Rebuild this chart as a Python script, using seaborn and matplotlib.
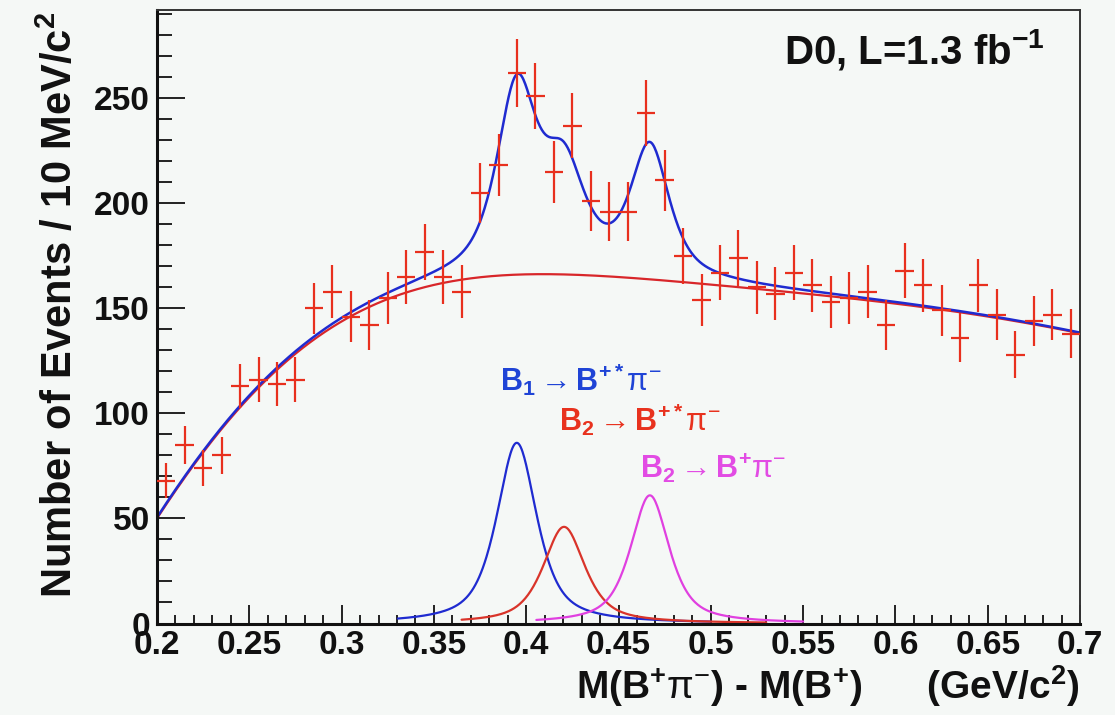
import numpy as np
import pandas as pd
import matplotlib
matplotlib.use("Agg")
import matplotlib.pyplot as plt
import seaborn as sns
from matplotlib import font_manager
from matplotlib.ticker import MultipleLocator, FuncFormatter

# ---------------- data ----------------
bin_lo = 0.20
bin_width = 0.01
counts = [68, 85, 74, 80, 113, 116, 114, 116, 150, 158,
          146, 142, 155, 165, 177, 165, 158, 205, 218, 262,
          251, 215, 237, 201, 196, 196, 243, 211, 175, 154,
          167, 174, 160, 157, 167, 161, 153, 155, 158, 142,
          168, 161, 149, 136, 161, 147, 128, 144, 147, 138]

# background fit curve, read at 0.02 steps
bg_x = [0.20, 0.22, 0.24, 0.26, 0.28, 0.30, 0.32, 0.34, 0.36, 0.38,
        0.40, 0.42, 0.44, 0.46, 0.48, 0.50, 0.52, 0.54, 0.56, 0.58,
        0.60, 0.62, 0.64, 0.66, 0.68, 0.70]
bg_y = [50, 75.5, 98, 117, 131.5, 143.5, 152.5, 159, 163.3, 165.3,
        166.2, 166.2, 165.4, 164.1, 162.6, 160.9, 159.9, 158.5, 156.5, 154.3,
        152.0, 149.6, 147.4, 144.9, 141.8, 138.0]

# signal peaks (B1 -> B*pi, B2 -> B*pi, B2 -> B pi)
peak_names = ["B1_Bstar", "B2_Bstar", "B2_B"]
peak_mean = [0.3949, 0.4205, 0.467]
peak_height = [86, 46, 61]
peak_fwhm = [0.026, 0.027, 0.025]
peak_lorentz_frac = 0.7
peak_range = [(0.33, 0.50), (0.365, 0.53), (0.405, 0.55)]
zero_line_x = [0.20, 0.30]
zero_line_y = [0, 0]

# ---------------- style ----------------
BG = "#f5f8f6"
RED_DATA = "#e8301e"
RED_BG = "#d8262a"
BLUE = "#1f2bd0"
RED_PK = "#d9342a"
MAGENTA = "#e040e0"
BLUE_TXT = "#1f44d6"
RED_TXT = "#e8321e"
MAG_TXT = "#e24ce4"

sns.set_theme(style="white")
plt.rcParams["font.family"] = ["Liberation Sans", "DejaVu Sans"]
plt.rcParams["mathtext.fontset"] = "custom"
plt.rcParams["mathtext.rm"] = "Liberation Sans"
plt.rcParams["mathtext.it"] = "Liberation Sans:italic"
plt.rcParams["mathtext.bf"] = "Liberation Sans:bold"
plt.rcParams["mathtext.sf"] = "Liberation Sans"

names = {f.name for f in font_manager.fontManager.ttflist}
narrow = "Liberation Sans Narrow" in names
if narrow:
    tick_x_family = ["Liberation Sans Narrow", "Liberation Sans"]
    tick_x_size = 28
else:
    tick_x_family = ["Liberation Sans", "DejaVu Sans"]
    tick_x_size = 24

fig = plt.figure(figsize=(11.15, 7.15), dpi=100, facecolor=BG)
W, H = 1115, 715
x0px, x1px, y0px, y1px = 157, 1080, 623.5, 10
ax = fig.add_axes([x0px / W, (H - y0px) / H, (x1px - x0px) / W, (y0px - y1px) / H])
ax.set_facecolor(BG)

# ---------------- curves ----------------
def pseudo_voigt(x, mu, h, fwhm, eta):
    u = 2 * (x - mu) / fwhm
    return h * (eta / (1 + u ** 2) + (1 - eta) * np.exp(-np.log(2) * u ** 2))

xf = np.linspace(0.2, 0.7, 1001)
t_bg = (np.array(bg_x) - 0.45) / 0.25
coef = np.polyfit(t_bg, np.array(bg_y), 7)
bg_f = np.polyval(coef, (xf - 0.45) / 0.25)

peaks = [pseudo_voigt(xf, m, h, w, peak_lorentz_frac)
         for m, h, w in zip(peak_mean, peak_height, peak_fwhm)]
total = bg_f + np.sum(peaks, axis=0)

sns.lineplot(x=zero_line_x, y=zero_line_y, ax=ax, color=MAGENTA, lw=2.0)

peak_colors = [BLUE, RED_PK, MAGENTA]
for pk, (a, b), c in zip(peaks, peak_range, peak_colors):
    m = (xf >= a) & (xf <= b)
    sns.lineplot(x=xf[m], y=pk[m], ax=ax, color=c, lw=1.6, sort=False)

sns.lineplot(x=xf, y=bg_f, ax=ax, color=RED_BG, lw=1.6, sort=False)
sns.lineplot(x=xf, y=total, ax=ax, color=BLUE, lw=1.8, sort=False)

# ---------------- data points ----------------
centers = bin_lo + bin_width * (np.arange(len(counts)) + 0.5)
cnt = np.array(counts, dtype=float)
ax.errorbar(centers, cnt, yerr=np.sqrt(cnt), xerr=bin_width / 2, fmt="none",
            ecolor=RED_DATA, elinewidth=1.6, capsize=0, zorder=5)

# ---------------- axes ----------------
ax.set_xlim(0.2, 0.7)
ax.set_ylim(0, 292)
ax.xaxis.set_major_locator(MultipleLocator(0.05))
ax.xaxis.set_minor_locator(MultipleLocator(0.01))
ax.yaxis.set_major_locator(MultipleLocator(50))
ax.yaxis.set_minor_locator(MultipleLocator(10))
ax.xaxis.set_major_formatter(FuncFormatter(lambda v, p: "%g" % round(v, 3)))
ax.yaxis.set_major_formatter(FuncFormatter(lambda v, p: "%d" % round(v)))

ax.tick_params(axis="y", which="major", direction="in", length=20, width=1.4,
               color="#222222", pad=5, left=True, right=False)
ax.tick_params(axis="y", which="minor", direction="in", length=10.5, width=1.4,
               color="#222222", left=True, right=False)
ax.tick_params(axis="x", which="major", direction="in", length=13.5, width=1.4,
               color="#222222", pad=5, bottom=True, top=False)
ax.tick_params(axis="x", which="minor", direction="in", length=6.5, width=1.4,
               color="#222222", bottom=True, top=False)

for lab in ax.get_yticklabels():
    lab.set_fontsize(24)
    lab.set_fontweight("bold")
    lab.set_color("#111111")
for lab in ax.get_xticklabels():
    lab.set_fontsize(tick_x_size)
    lab.set_fontweight("bold")
    lab.set_family(tick_x_family)
    lab.set_color("#111111")

for side in ["left", "bottom"]:
    ax.spines[side].set_linewidth(2.2)
    ax.spines[side].set_color("#111111")
for side in ["top", "right"]:
    ax.spines[side].set_linewidth(1.4)
    ax.spines[side].set_color("#333333")

ax.set_ylabel(r"Number of Events / 10 MeV/c$^{\mathbf{2}}$", fontsize=30,
              fontweight="bold", color="#111111")
ax.yaxis.set_label_coords(-0.082, 0.52)
ax.set_xlabel(r"M(B$^{\mathbf{+}}$$\mathrm{\pi}^{-}$) - M(B$^{\mathbf{+}}$)      (GeV/c$^{\mathbf{2}}$)",
              fontsize=28, fontweight="bold", color="#111111", ha="right")
ax.xaxis.set_label_coords(1.0, -0.064)

# ---------------- annotations ----------------
ax.text(0.681, 273, r"D0, L=1.3 fb$^{\mathbf{-1}}$", fontsize=29, fontweight="bold",
        ha="right", va="center", color="#111111")
ax.text(0.386, 116, r"$\mathbf{B_{1}}\rightarrow\mathbf{B^{+*}}\mathrm{\pi}^{-}$",
        fontsize=22, color=BLUE_TXT, ha="left", va="center")
ax.text(0.418, 97, r"$\mathbf{B_{2}}\rightarrow\mathbf{B^{+*}}\mathrm{\pi}^{-}$",
        fontsize=22, color=RED_TXT, ha="left", va="center")
ax.text(0.4617, 74, r"$\mathbf{B_{2}}\rightarrow\mathbf{B^{+}}\mathrm{\pi}^{-}$",
        fontsize=22, color=MAG_TXT, ha="left", va="center")

fig.savefig("out.png", dpi=100, facecolor=BG)
